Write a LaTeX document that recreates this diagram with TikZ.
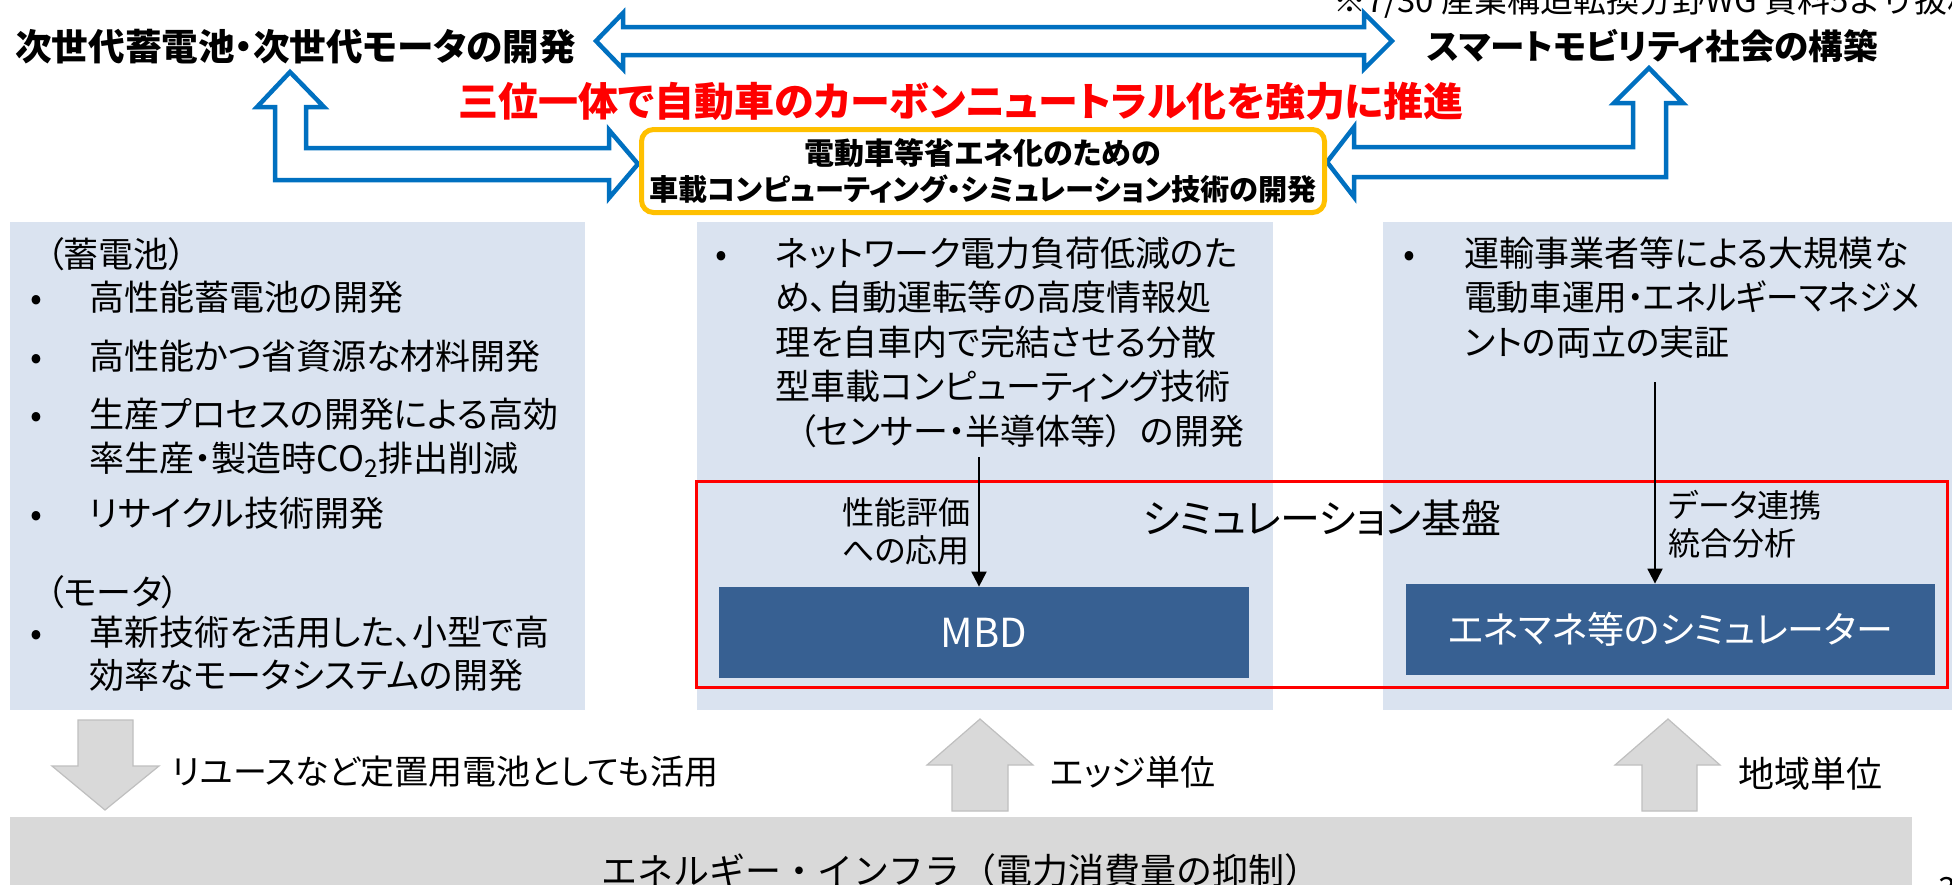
\documentclass[tikz,border=0pt]{standalone}
\usepackage{fontspec}
\setmainfont{Noto Sans CJK JP}[RawFeature=+palt]
\newfontfamily\jpmono{Noto Sans CJK JP}
\usetikzlibrary{arrows.meta}
\definecolor{panelblue}{HTML}{DAE3F0}
\definecolor{darkblue}{HTML}{376092}
\definecolor{arrowblue}{HTML}{0070C0}
\definecolor{boxorange}{HTML}{FFC000}
\definecolor{infragray}{HTML}{D9D9D9}
\definecolor{grayedge}{HTML}{BFBFBF}
\begin{document}
\begin{tikzpicture}[x=0.5pt,y=-0.5pt,
  jt/.style={inner sep=0pt, font=\fontsize{#1pt}{#1pt}\selectfont, text height=0.88*#1pt, text depth=0.12*#1pt},
  body/.style={jt=17.5, anchor=west},
  bul/.style={jt=17.5, anchor=center},
  lbl/.style={jt=16, anchor=west},
  panel/.style={fill=panelblue, draw=none, inner sep=0pt, anchor=north west},
  darkbox/.style={fill=darkblue, draw=none, inner sep=0pt, text=white},
  bluearrow/.style={draw=arrowblue, fill=white, line width=2.25pt, line join=miter},
  grayarrow/.style={draw=grayedge, fill=infragray, line width=0.6pt, line join=miter},
  conn/.style={draw=black, line width=1pt, -{Triangle[width=7.5pt,length=7.5pt]}}
]
\useasboundingbox (0,0) rectangle (1952,884);
\clip (0,0) rectangle (1952,884);

% panels
\node[panel, minimum width=287.5pt, minimum height=244pt] (pL) at (10,222) {};
\node[panel, minimum width=288pt, minimum height=244pt] (pM) at (697,222) {};
\node[panel, minimum width=288.5pt, minimum height=244pt] (pR) at (1383,222) {};

% note at top (cut off)
\node[anchor=base west, inner sep=0pt, font=\jpmono\fontsize{16.5pt}{16.5pt}\selectfont] (note) at (1333,12) {※7/30 産業構造転換分野WG 資料5より抜粋};

% titles
\node[jt=18.3, anchor=west, font=\bfseries\fontsize{18.3pt}{18.3pt}\selectfont] (ltitle) at (15,47) {次世代蓄電池・次世代モータの開発};
\node[jt=17.3, anchor=west, font=\bfseries\fontsize{17.3pt}{17.3pt}\selectfont] (rtitle) at (1427,46) {スマートモビリティ社会の構築};
\node[jt=20, anchor=center, text=red, font=\bfseries\fontsize{20pt}{20pt}\selectfont] (slogan) at (961,101) {三位一体で自動車のカーボンニュートラル化を強力に推進};

% top double arrow
\draw[bluearrow] (596,41) -- (623,13) -- (623,27) -- (1364,27) -- (1364,13) -- (1392,41)
  -- (1364,69) -- (1364,55) -- (623,55) -- (623,69) -- cycle;
% left elbow arrow
\draw[bluearrow] (290,72) -- (324,107) -- (306,107) -- (306,148) -- (609,148) -- (609,130)
  -- (638,164) -- (609,198) -- (609,180) -- (275,180) -- (275,107) -- (257,107) -- cycle;
% right elbow arrow
\draw[bluearrow] (1649,68) -- (1683,103) -- (1666,103) -- (1666,177) -- (1354,177) -- (1354,197)
  -- (1327,162) -- (1354,127) -- (1354,147) -- (1633,147) -- (1633,103) -- (1614,103) -- cycle;

% central box
\node[draw=boxorange, fill=white, line width=2.5pt, rounded corners=6pt, minimum width=341.5pt,
  minimum height=41.5pt, inner sep=0pt, align=center,
  font=\bfseries\fontsize{14.6pt}{18pt}\selectfont] (cbox) at (983,171)
  {\fontsize{15pt}{18pt}\selectfont 電動車等省エネ化のための\\車載コンピューティング・シミュレーション技術の開発};

% left panel text
\node[body] (lp0) at (46,254) {（蓄電池）};
\node[bul] (lb1) at (36,297) {•};
\node[body] (lt1) at (89,297) {高性能蓄電池の開発};
\node[bul] (lb2) at (36,356) {•};
\node[body] (lt2) at (89,356) {高性能かつ省資源な材料開発};
\node[bul] (lb3) at (36,414) {•};
\node[body] (lt3) at (89,414) {生産プロセスの開発による高効};
\node[body] (lt3b) at (89,458) {率生産・製造時CO\textsubscript{2}排出削減};
\node[bul] (lb4) at (36,513) {•};
\node[body] (lt4) at (89,513) {リサイクル技術開発};
\node[body] (lp1) at (46,592) {（モータ）};
\node[bul] (lb5) at (36,632) {•};
\node[body] (lt5) at (89,632) {革新技術を活用した、小型で高};
\node[body] (lt5b) at (89,675) {効率なモータシステムの開発};

% middle panel text
\node[bul] (mb1) at (721,253) {•};
\node[body] (mt1) at (775,253) {ネットワーク電力負荷低減のた};
\node[body] (mt2) at (775,297) {め、自動運転等の高度情報処};
\node[body] (mt3) at (775,342) {理を自車内で完結させる分散};
\node[body] (mt4) at (775,386) {型車載コンピューティング技術};
\node[body] (mt5) at (798,431) {（センサー・半導体等）\hspace{0.5em}の開発};

% right panel text
\node[bul] (rb1) at (1409,253) {•};
\node[body] (rt1) at (1464,253) {運輸事業者等による大規模な};
\node[body] (rt2) at (1464,297) {\scalebox{0.93}[1]{電動車運用・エネルギーマネジメ}};
\node[body] (rt3) at (1464,342) {ントの両立の実証};

% simulation platform
\node[draw=red, line width=1.5pt, fill=none, minimum width=625.5pt, minimum height=103pt, inner sep=0pt] (redbox) at (1322,584.5) {};
\node[jt=20, anchor=center] (simlbl) at (1322,518) {シミュレーション基盤};
\node[darkbox, minimum width=265pt, minimum height=45.5pt, jt=20] (mbd) at (984,632.5) {MBD};
\node[darkbox, minimum width=264.5pt, minimum height=45.5pt, jt=18.5] (sim) at (1670.5,629.5) {エネマネ等のシミュレーター};

% connectors
\coordinate (c1) at (979,457);
\coordinate (c2) at (1655,382);
\draw[conn] (c1) -- (c1 |- mbd.north);
\draw[conn] (c2) -- (c2 |- sim.north);
\node[lbl] (lab1) at (842,512) {性能評価};
\node[lbl] (lab1b) at (842,550) {への応用};
\node[lbl] (lab2) at (1668,505) {データ連携};
\node[lbl] (lab2b) at (1668,543) {統合分析};

% bottom infrastructure bar
\node[fill=infragray, draw=none, minimum width=951pt, minimum height=56pt, inner sep=0pt,
  font=\jpmono\fontsize{18pt}{18pt}\selectfont, text height=15.84pt, text depth=4.16pt] (infra) at (961,873)
  {エネルギー・インフラ（電力消費量の抑制）};

% gray block arrows
\draw[grayarrow] (78,720) -- (133,720) -- (133,766) -- (159,766) -- (105,810) -- (52,766) -- (78,766) -- cycle;
\draw[grayarrow] (980,719) -- (1033,765) -- (1008,765) -- (1008,811) -- (952,811) -- (952,765) -- (927,765) -- cycle;
\draw[grayarrow] (1668,719) -- (1720,765) -- (1697,765) -- (1697,811) -- (1642,811) -- (1642,765) -- (1615,765) -- cycle;
\node[jt=17, anchor=west] (g1l) at (172,772) {リユースなど定置用電池としても活用};
\node[body] (g2l) at (1050,772) {エッジ単位};
\node[jt=18, anchor=west] (g3l) at (1738,774) {地域単位};

% page number (cut off)
\node[anchor=base west, inner sep=0pt, font=\fontsize{16pt}{16pt}\selectfont] (pg) at (1938,900) {3};
\end{tikzpicture}
\end{document}
